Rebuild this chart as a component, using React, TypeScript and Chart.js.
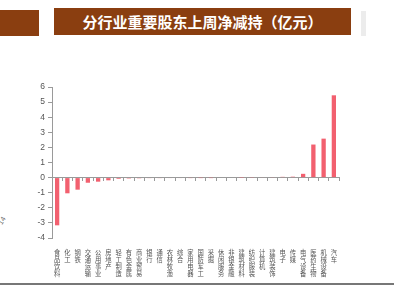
import React, { useEffect, useRef } from "react";
import { Chart, registerables } from "chart.js";

Chart.register(...registerables);

const TITLE = "分行业重要股东上周净减持（亿元）";

const categories = [
  "食品饮料", "化工", "钢铁", "交通运输", "公用事业", "房地产", "轻工制造",
  "有色金属", "商业贸易", "银行", "通信", "农林牧渔", "综合", "家用电器",
  "国防军工", "采掘", "休闲服务", "非银金融", "建筑材料", "纺织服装", "计算机",
  "建筑装饰", "电子", "传媒", "电气设备", "医药生物", "机械设备", "汽车",
];

const netReduction = [
  -3.16, -1.04, -0.8, -0.34, -0.27, -0.18, -0.08,
  -0.06, -0.05, -0.04, -0.04, -0.03, -0.03, -0.02,
  -0.01, -0.01, 0.0, 0.0, 0.01, 0.02, 0.03,
  0.04, 0.05, 0.06, 0.25, 2.19, 2.58, 5.45,
];

const yMin = -4;
const yMax = 6;
const yStep = 1;

export default function App() {
  const canvasRef = useRef<HTMLCanvasElement | null>(null);

  useEffect(() => {
    const canvas = canvasRef.current;
    if (!canvas) return;
    const chart = new Chart(canvas, {
      type: "bar",
      data: {
        labels: categories.map((c) => c.split("")),
        datasets: [
          {
            data: netReduction,
            backgroundColor: "#F2606F",
            borderWidth: 0,
            categoryPercentage: 1,
            barPercentage: 0.42,
          },
        ],
      },
      options: {
        animation: false,
        responsive: false,
        maintainAspectRatio: false,
        layout: { padding: { left: 22, right: 55, top: 87, bottom: 26 } },
        plugins: { legend: { display: false }, tooltip: { enabled: false } },
        scales: {
          x: {
            type: "category",
            position: "bottom",
            grid: { display: false },
            border: { display: false },
            ticks: {
              autoSkip: false,
              maxRotation: 0,
              minRotation: 0,
              padding: 3,
              color: "#555",
              font: { family: "'Noto Sans CJK SC', sans-serif", size: 6.3, lineHeight: 1.12 },
            },
            afterFit: (s: any) => {
              s.height = 40;
            },
          },
          x2: {
            type: "category",
            axis: "x",
            position: { y: 0 },
            grid: { drawOnChartArea: false, offset: true, tickLength: 3, color: "#9a9a9a" },
            border: { display: true, color: "#9a9a9a", width: 1 },
            ticks: { display: false },
          },
          y: {
            min: yMin,
            max: yMax,
            ticks: {
              stepSize: yStep,
              padding: 3,
              color: "#555",
              font: { family: "'Liberation Sans', Arial, sans-serif", size: 8.5 },
            },
            grid: { drawOnChartArea: false, tickLength: 4, color: "#9a9a9a" },
            border: { display: true, color: "#9a9a9a", width: 1 },
            afterFit: (s: any) => {
              s.width = 30;
            },
          },
        },
      } as any,
    });
    return () => chart.destroy();
  }, []);

  return (
    <div
      style={{
        position: "fixed",
        left: 0,
        top: 0,
        width: 394,
        height: 304,
        background: "#ffffff",
        overflow: "hidden",
      }}
    >
      <div style={{ position: "absolute", left: 0, top: 10, width: 39, height: 26, background: "#8A3E10" }} />
      <div
        style={{
          position: "absolute",
          left: 54,
          top: 8,
          width: 297,
          height: 27,
          background: "#8A3E10",
          color: "#ffffff",
          fontFamily: "'Noto Sans CJK SC', sans-serif",
          fontWeight: 700,
          fontSize: 15,
          lineHeight: "27px",
          textAlign: "center",
          whiteSpace: "nowrap",
        }}
      >
        {TITLE}
      </div>
      <div style={{ position: "absolute", left: 361, top: 11, width: 5, height: 25, background: "#ececec" }} />
      <div
        style={{
          position: "absolute",
          left: -2,
          top: 217,
          fontSize: 7,
          color: "#666",
          fontFamily: "'Liberation Sans', Arial, sans-serif",
          transform: "rotate(-60deg)",
        }}
      >
        14
      </div>
      <div style={{ position: "absolute", left: 0, top: 283, width: 394, height: 2, background: "#777" }} />
      <canvas
        ref={canvasRef}
        width={394}
        height={304}
        style={{ position: "absolute", left: 0, top: 0, width: 394, height: 304 }}
      />
    </div>
  );
}
